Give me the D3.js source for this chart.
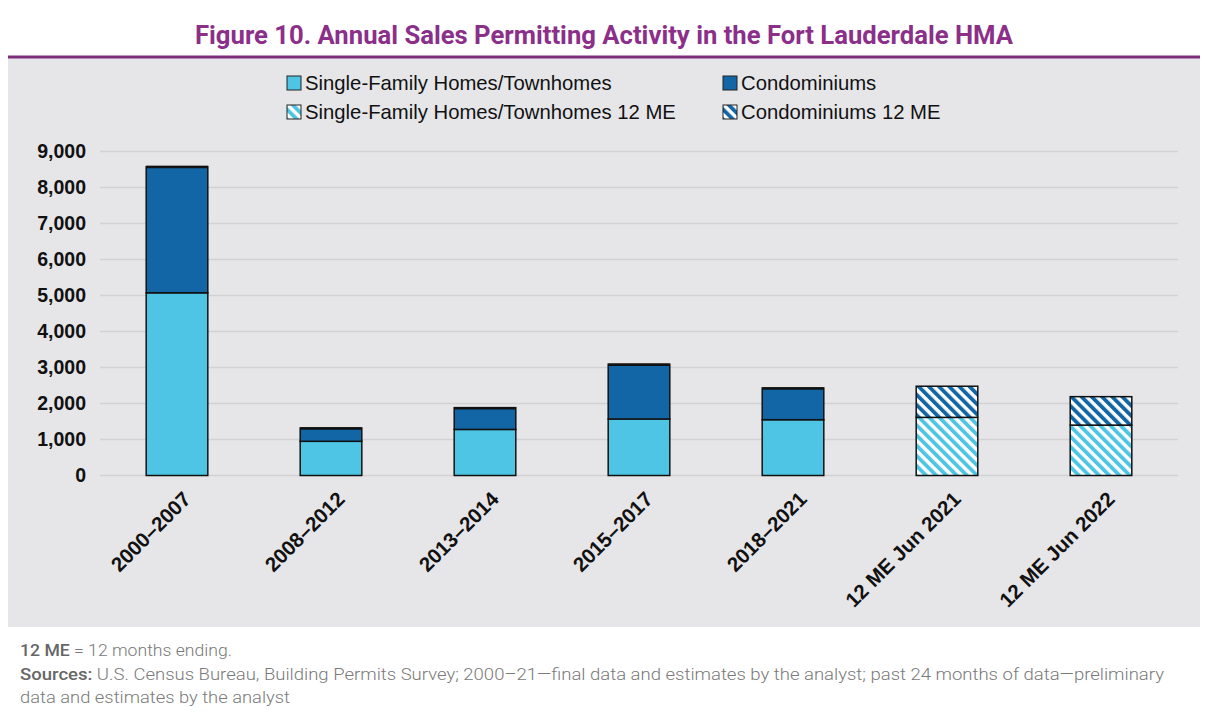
<!DOCTYPE html>
<html>
<head>
<meta charset="utf-8">
<script src="https://cdn.jsdelivr.net/npm/d3@7"></script>
<style>
  body { margin: 0; background: #fff; }
  svg { display: block; }
</style>
</head>
<body>
<div id="chart"></div>
<script>
// values
var categories = ["2000\u20132007", "2008\u20132012", "2013\u20132014", "2015\u20132017", "2018\u20132021", "12 ME Jun 2021", "12 ME Jun 2022"];
var singleFamily = [5075, 950, 1280, 1570, 1550, 1615, 1400];
var condos = [3505, 370, 605, 1520, 880, 865, 790];
var isTwelveME = [false, false, false, false, false, true, true];
var yTicks = [0, 1000, 2000, 3000, 4000, 5000, 6000, 7000, 8000, 9000];

var W = 1221, H = 721;
var lightBlue = "#4fc5e6", darkBlue = "#1266a5";

var svg = d3.select("#chart").append("svg")
    .attr("width", W)
    .attr("height", H);

var defs = svg.append("defs");
function hatch(id, color){
  var p = defs.append("pattern")
      .attr("id", id)
      .attr("patternUnits", "userSpaceOnUse")
      .attr("width", 7.2).attr("height", 7.2)
      .attr("patternTransform", "rotate(-45)");
  p.append("rect").attr("width", 7.2).attr("height", 7.2).attr("fill", "#fff");
  p.append("rect").attr("width", 3.8).attr("height", 7.2).attr("fill", color);
}
hatch("hatchLight", lightBlue);
hatch("hatchDark", darkBlue);

// title
svg.append("text")
    .attr("x", 604).attr("y", 44)
    .attr("text-anchor", "middle")
    .attr("font-family", "Roboto, sans-serif")
    .attr("font-weight", 700)
    .attr("font-size", 25)
    .attr("fill", "#8b2f8a")
    .attr("textLength", 818)
    .attr("lengthAdjust", "spacingAndGlyphs")
    .text("Figure 10. Annual Sales Permitting Activity in the Fort Lauderdale HMA");

// panel
svg.append("rect")
    .attr("x", 8).attr("y", 58)
    .attr("width", 1192).attr("height", 569)
    .attr("fill", "#e6e6e9");
svg.append("line")
    .attr("x1", 8).attr("x2", 1200)
    .attr("y1", 57).attr("y2", 57)
    .attr("stroke", "#7d2c7c")
    .attr("stroke-width", 3);

var x = d3.scaleBand().domain(categories).range([100, 1178]).paddingInner(0.6).paddingOuter(0.3);
var y = d3.scaleLinear().domain([0, 9000]).range([475.5, 151.5]);

// gridlines
svg.append("g").selectAll("line")
    .data(yTicks)
  .enter().append("line")
    .attr("x1", 100).attr("x2", 1178)
    .attr("y1", function(d){ return y(d); })
    .attr("y2", function(d){ return y(d); })
    .attr("stroke", "#d2d2d5")
    .attr("stroke-width", 1.5);

// y axis labels
var yAxis = d3.axisLeft(y).tickValues(yTicks).tickSize(0).tickPadding(0).tickFormat(d3.format(","));
var yg = svg.append("g")
    .attr("transform", "translate(86,0)")
    .call(yAxis);
yg.select(".domain").remove();
yg.selectAll("text")
    .attr("font-family", "Liberation Sans, Arial, sans-serif")
    .attr("font-weight", 700)
    .attr("font-size", 19.5)
    .attr("fill", "#111");

// bars
var rows = categories.map(function(c, i){
  return {cat: c, sf: singleFamily[i], co: condos[i], me: isTwelveME[i]};
});

var bars = svg.append("g").selectAll("g")
    .data(rows)
  .enter().append("g");

bars.append("rect")
    .attr("x", function(d){ return x(d.cat); })
    .attr("width", x.bandwidth())
    .attr("y", function(d){ return y(d.sf); })
    .attr("height", function(d){ return y(0) - y(d.sf); })
    .attr("fill", function(d){ return d.me ? "url(#hatchLight)" : lightBlue; })
    .attr("stroke", "#111")
    .attr("stroke-width", 1.5);

bars.append("rect")
    .attr("x", function(d){ return x(d.cat); })
    .attr("width", x.bandwidth())
    .attr("y", function(d){ return y(d.sf + d.co); })
    .attr("height", function(d){ return y(d.sf) - y(d.sf + d.co); })
    .attr("fill", function(d){ return d.me ? "url(#hatchDark)" : darkBlue; })
    .attr("stroke", "#111")
    .attr("stroke-width", 1.5);

// darker cap on the solid bars, as in the original
bars.filter(function(d){ return !d.me; }).append("line")
    .attr("x1", function(d){ return x(d.cat); })
    .attr("x2", function(d){ return x(d.cat) + x.bandwidth(); })
    .attr("y1", function(d){ return y(d.sf + d.co) + 0.5; })
    .attr("y2", function(d){ return y(d.sf + d.co) + 0.5; })
    .attr("stroke", "#111")
    .attr("stroke-width", 2.5);

// x labels
var xAxis = d3.axisBottom(x).tickSize(0).tickPadding(0);
var xg = svg.append("g")
    .attr("transform", "translate(0," + y(0) + ")")
    .call(xAxis);
xg.select(".domain").remove();
xg.selectAll("text")
    .attr("font-family", "Liberation Sans, Arial, sans-serif")
    .attr("font-weight", 700)
    .attr("font-size", 20.5)
    .attr("fill", "#111")
    .attr("text-anchor", "end")
    .attr("dy", 0)
    .attr("transform", "translate(15,25) rotate(-45)");

// legend
var legendItems = [
  {label: "Single-Family Homes/Townhomes", fill: lightBlue, x: 287, y: 83},
  {label: "Condominiums", fill: darkBlue, x: 723, y: 83},
  {label: "Single-Family Homes/Townhomes 12 ME", fill: "url(#hatchLight)", x: 287, y: 112},
  {label: "Condominiums 12 ME", fill: "url(#hatchDark)", x: 723, y: 112}
];
var lg = svg.append("g").selectAll("g")
    .data(legendItems)
  .enter().append("g")
    .attr("transform", function(d){ return "translate(" + d.x + "," + d.y + ")"; });
lg.append("rect")
    .attr("x", 0).attr("y", -7)
    .attr("width", 14).attr("height", 14)
    .attr("fill", function(d){ return d.fill; })
    .attr("stroke", "#222")
    .attr("stroke-width", 1);
lg.append("text")
    .attr("x", 18).attr("y", 7)
    .attr("font-family", "Liberation Sans, Arial, sans-serif")
    .attr("font-size", 20.3)
    .attr("fill", "#111")
    .text(function(d){ return d.label; });

// footnotes
var notes = svg.append("g")
    .attr("font-family", "Roboto, sans-serif")
    .attr("font-size", 17)
    .attr("fill", "#7a7a7a");
var n1 = notes.append("text").attr("x", 20).attr("y", 656)
    .attr("textLength", 212).attr("lengthAdjust", "spacingAndGlyphs");
n1.append("tspan").attr("font-weight", 500).attr("fill", "#666").text("12 ME");
n1.append("tspan").attr("font-weight", 300).text(" = 12 months ending.");
var n2 = notes.append("text").attr("x", 20).attr("y", 680)
    .attr("textLength", 1144).attr("lengthAdjust", "spacingAndGlyphs");
n2.append("tspan").attr("font-weight", 500).attr("fill", "#666").text("Sources:");
n2.append("tspan").attr("font-weight", 300).text(" U.S. Census Bureau, Building Permits Survey; 2000\u201321\u2014final data and estimates by the analyst; past 24 months of data\u2014preliminary");
notes.append("text").attr("x", 20).attr("y", 703)
    .attr("font-weight", 300)
    .attr("textLength", 270).attr("lengthAdjust", "spacingAndGlyphs")
    .text("data and estimates by the analyst");
</script>
</body>
</html>
